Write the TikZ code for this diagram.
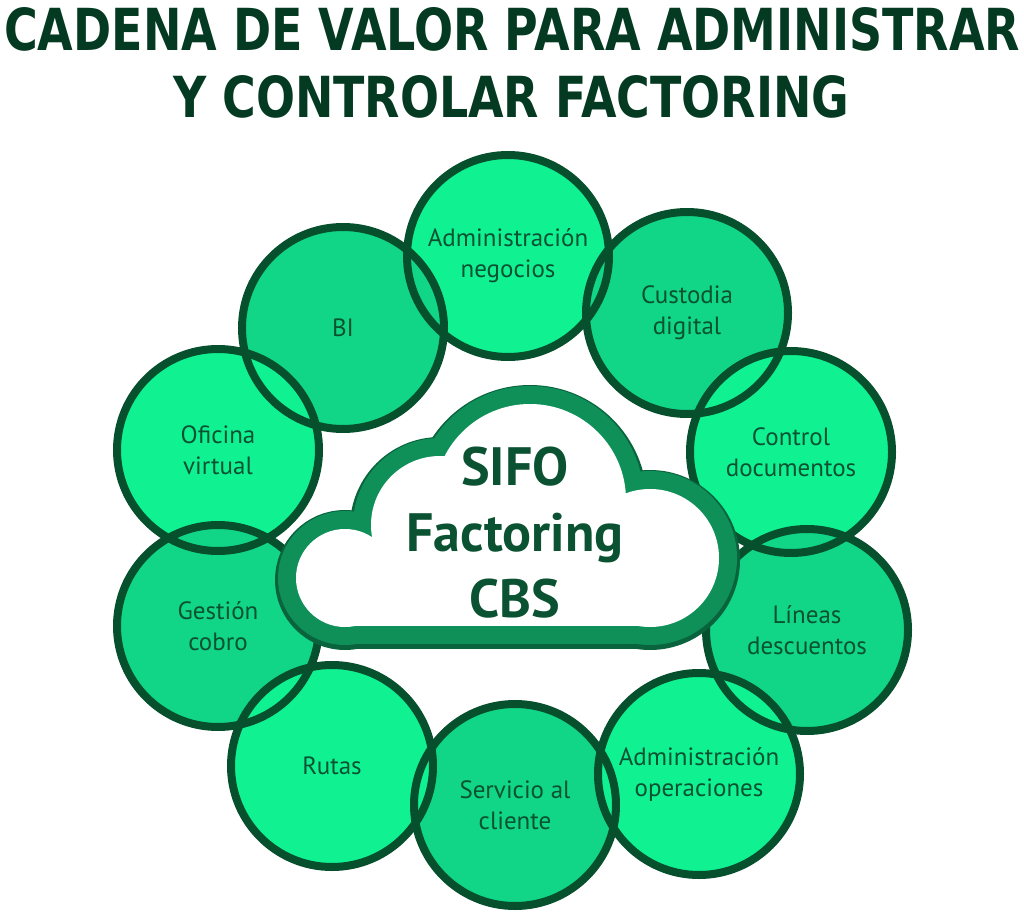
\documentclass[tikz,border=0pt]{standalone}
\usepackage{graphicx}
\usepackage{fontspec}
\setmainfont{PT Sans}
\newfontfamily\titlefont{DejaVu Sans}

\definecolor{leaflight}{RGB}{16,242,146}
\definecolor{leafmid}{RGB}{17,214,135}
\definecolor{ringline}{RGB}{7,80,46}
\definecolor{cloudband}{RGB}{14,144,88}
\definecolor{cloudrim}{RGB}{9,100,62}
\definecolor{inktitle}{RGB}{5,58,34}
\definecolor{inktext}{RGB}{10,82,50}

\newcommand\cloudpass[1]{%
  \path[#1] (345,333) circle (49);
  \path[#1] (440,386) circle (69);
  \path[#1] (530,411) circle (96);
  \path[#1] (650,353) circle (69);
  \path[#1] (345,285) rectangle (650,351);}

\begin{document}
\begin{tikzpicture}[x=1pt,y=1pt,
  ring/.style={draw=ringline,line width=8pt},
  lbl/.style={align=center,inner sep=0pt,text=inktext,
    font=\fontsize{25}{31}\selectfont},
  titleline/.style={anchor=north west,inner sep=0pt,text=inktitle}]
  \useasboundingbox (0,0) rectangle (1024,911);

  \node[titleline] (title1) at (4,904)
    {\resizebox{1016pt}{43pt}{\titlefont\bfseries CADENA DE VALOR PARA ADMINISTRAR}};
  \node[titleline] (title2) at (173,836)
    {\resizebox{676pt}{42pt}{\titlefont\bfseries Y CONTROLAR FACTORING}};

  \coordinate (neg) at (508,655);
  \coordinate (cust) at (687,598);
  \coordinate (ctrl) at (791,459);
  \coordinate (lin) at (807,281);
  \coordinate (ops) at (699,137);
  \coordinate (serv) at (515,106);
  \coordinate (rut) at (332,145);
  \coordinate (cob) at (218,285);
  \coordinate (ofi) at (218,461);
  \coordinate (bi) at (343,583);

  \fill[leaflight] (neg) circle (101);
  \fill[leafmid] (serv) circle (101);
  \fill[leafmid] (cust) circle (101);
  \fill[leafmid] (bi) circle (101);
  \fill[leaflight] (ctrl) circle (101);
  \fill[leaflight] (ofi) circle (101);
  \fill[leafmid] (lin) circle (101);
  \fill[leafmid] (cob) circle (101);
  \fill[leaflight] (ops) circle (101);
  \fill[leaflight] (rut) circle (101);
  \foreach \c in {neg,cust,ctrl,lin,ops,serv,rut,cob,ofi,bi}
    \draw[ring] (\c) circle (101);

  \begin{scope}[yshift=-2pt]
    \cloudpass{draw=cloudrim,line width=42pt,line join=round}
  \end{scope}
  \cloudpass{draw=cloudband,line width=36pt,line join=round}
  \cloudpass{fill=white}

  \node[align=center,inner sep=0pt,text=inktext,
    font=\fontsize{54}{66}\selectfont\bfseries] (sifo) at (515,378)
    {SIFO\\Factoring\\CBS};

  \node[lbl] (negtxt) at (neg) {Administración\\negocios};
  \node[lbl] (custtxt) at (cust) {Custodia\\digital};
  \node[lbl] (ctrltxt) at (ctrl) {Control\\documentos};
  \node[lbl] (lintxt) at (lin) {Líneas\\descuentos};
  \node[lbl] (opstxt) at (ops) {Administración\\operaciones};
  \node[lbl] (servtxt) at (serv) {Servicio al\\cliente};
  \node[lbl] (ruttxt) at (rut) {Rutas};
  \node[lbl] (cobtxt) at (cob) {Gestión\\cobro};
  \node[lbl] (ofitxt) at (ofi) {Oficina\\virtual};
  \node[lbl] (bitxt) at (bi) {BI};
\end{tikzpicture}
\end{document}
